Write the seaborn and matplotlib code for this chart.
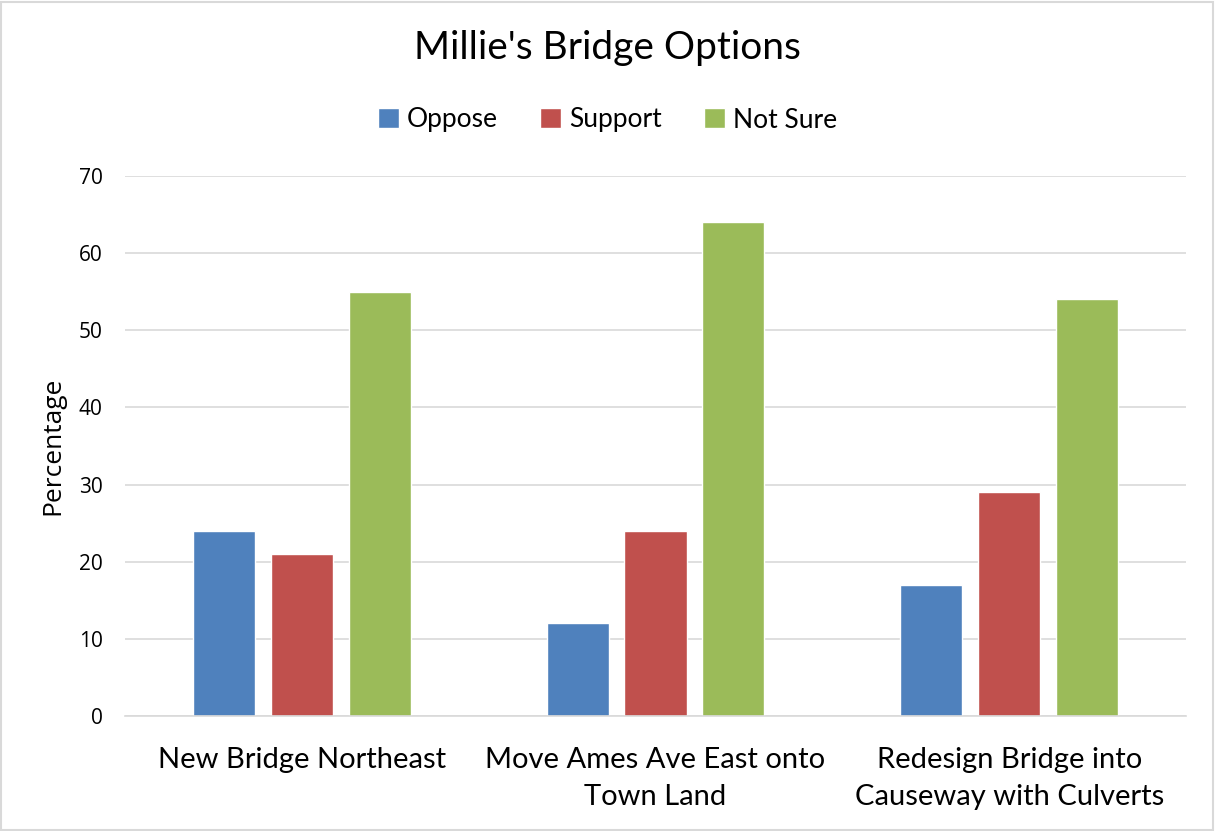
import matplotlib
matplotlib.use("Agg")
import matplotlib.pyplot as plt
import seaborn as sns
import pandas as pd

# chart data
categories = ["New Bridge Northeast",
              "Move Ames Ave East onto\nTown Land",
              "Redesign Bridge into\nCauseway with Culverts"]
responses = ["Oppose", "Support", "Not Sure"]
oppose = [24, 12, 17]
support = [21, 24, 29]
not_sure = [55, 64, 54]
yticks = [0, 10, 20, 30, 40, 50, 60, 70]
colors = ["#4F81BD", "#C0504D", "#9BBB59"]

df = pd.DataFrame({
    "Option": categories * 3,
    "Response": [r for r in responses for _ in categories],
    "Percentage": oppose + support + not_sure,
})

sns.set_style("white")
plt.rcParams['font.family'] = ['Lato', 'DejaVu Sans']
plt.rcParams['text.color'] = 'black'
plt.rcParams['axes.labelcolor'] = 'black'
plt.rcParams['xtick.color'] = 'black'
plt.rcParams['ytick.color'] = 'black'

fig = plt.figure(figsize=(12.15, 8.31), dpi=100)
ax = fig.add_axes([125 / 1215, 1 - 716 / 831, (1186 - 125) / 1215, (716 - 176) / 831])

sns.barplot(data=df, x="Option", y="Percentage", hue="Response",
            hue_order=responses, palette=colors, width=0.66, gap=0.2,
            saturation=1, ax=ax, legend=True)

ax.set_ylim(0, 70)
ax.set_xlim(-0.5, 2.5)
ax.set_yticks(yticks)
ax.yaxis.grid(True, color="#D9D9D9", linewidth=1.2)
ax.set_axisbelow(True)
for side in ["left", "right", "top"]:
    ax.spines[side].set_visible(False)
ax.spines["bottom"].set_color("#D9D9D9")
ax.spines["bottom"].set_linewidth(1.2)
ax.tick_params(axis="y", length=0, pad=16, labelsize=15)
ax.tick_params(axis="x", length=0, pad=22, labelsize=21)

fig.canvas.draw()
for lbl in ax.get_yticklabels():
    lbl.set_fontfamily("Open Sans")
for lbl in ax.get_xticklabels():
    lbl.set_linespacing(1.55)
ax.set_xlabel("")
ax.set_ylabel("Percentage", fontsize=19, family="Open Sans", labelpad=10)

handles, labels = ax.get_legend_handles_labels()
ax.legend_.remove()
fig.legend(handles, labels, loc="center", bbox_to_anchor=(0.5, 1 - 120 / 831),
           ncol=3, frameon=False, fontsize=19, handlelength=0.8,
           handleheight=0.8, handletextpad=0.3, columnspacing=1.6)

fig.text(0.5, 1 - 48 / 831, "Millie's Bridge Options", ha="center", va="center",
         fontsize=28)

fig.patches.append(plt.Rectangle((0.001, 0.001), 0.997, 0.997, transform=fig.transFigure,
                                 fill=False, edgecolor="#D9D9D9", linewidth=1.5))

fig.savefig("out.png", dpi=100)
